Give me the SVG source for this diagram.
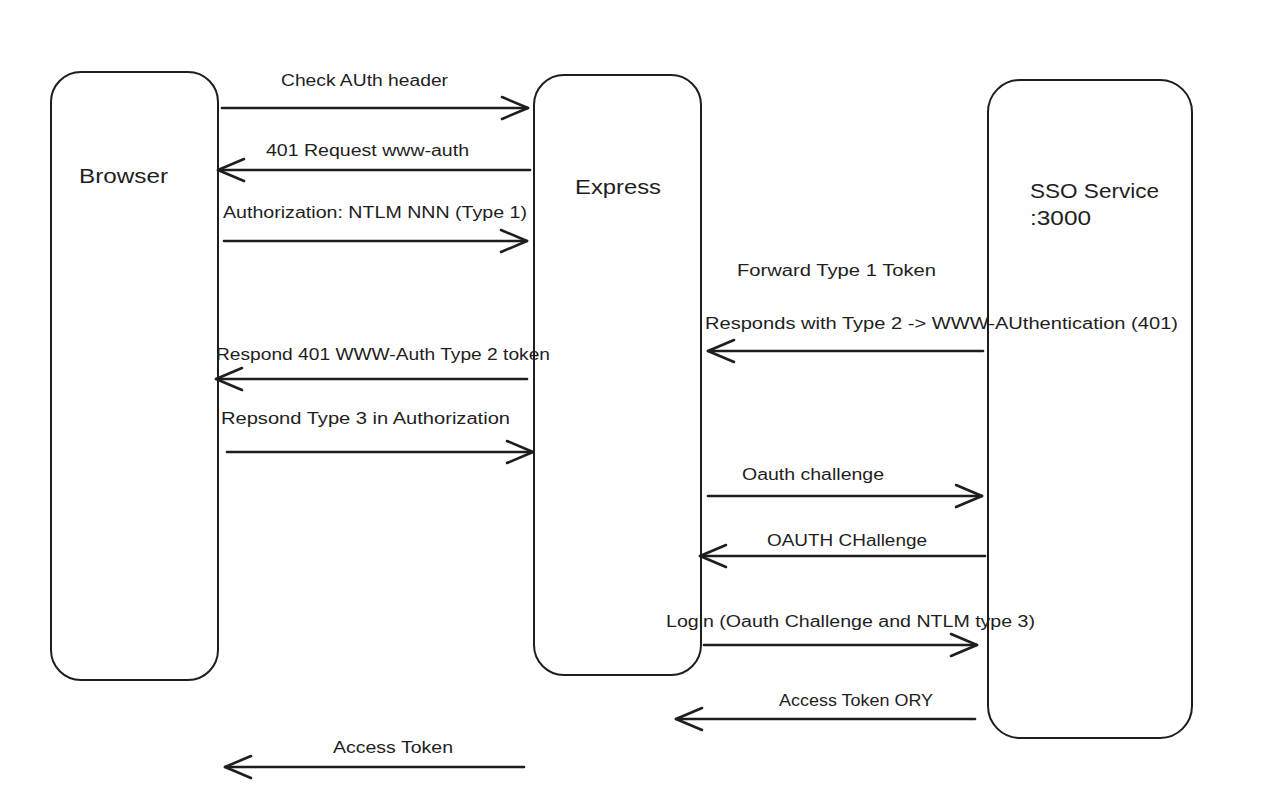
<svg xmlns="http://www.w3.org/2000/svg" width="1272" height="797" viewBox="0 0 1272 797">
<defs>
<style>
.node{fill:#fff;stroke:#1e1e1e;stroke-width:2}
.lbl{font-family:"Liberation Sans","DejaVu Sans",sans-serif;fill:#1e1e1e}
.nl{font-size:20px}
.el{font-size:16px}
.conn line{stroke:#1e1e1e;stroke-width:2.6;stroke-linecap:round;marker-end:url(#ah)}
</style>
<marker id="ah" markerUnits="userSpaceOnUse" markerWidth="40" markerHeight="40" viewBox="-30 -15 40 30" refX="0" refY="0" orient="auto">
<path d="M-26,-11 L0,0 L-26,11" fill="none" stroke="#1e1e1e" stroke-width="2.6" stroke-linecap="round" stroke-linejoin="round"/>
</marker>
</defs>
<rect width="1272" height="797" fill="#fff"/>
<g id="browser"><rect class="node" x="51" y="72" width="167" height="608" rx="30"/><text class="lbl nl" x="79" y="183" textLength="89" lengthAdjust="spacingAndGlyphs">Browser</text></g>
<g id="express"><rect class="node" x="534" y="75" width="167" height="600" rx="30"/><text class="lbl nl" x="575" y="194" textLength="86" lengthAdjust="spacingAndGlyphs">Express</text></g>
<g id="sso"><rect class="node" x="988" y="80" width="204" height="658" rx="32"/><text class="lbl nl" x="1030" y="198" textLength="129" lengthAdjust="spacingAndGlyphs">SSO Service</text><text class="lbl nl" x="1030" y="225" textLength="61" lengthAdjust="spacingAndGlyphs">:3000</text></g>
<g id="connectors" class="conn">
<line x1="222" y1="108" x2="528" y2="108"/>
<line x1="530" y1="170" x2="218" y2="170"/>
<line x1="224" y1="241" x2="527" y2="241"/>
<line x1="983" y1="351" x2="708" y2="351"/>
<line x1="527" y1="379" x2="216" y2="379"/>
<line x1="227" y1="452" x2="533" y2="452"/>
<line x1="708" y1="496" x2="982" y2="496"/>
<line x1="985" y1="556" x2="700" y2="556"/>
<line x1="704" y1="645" x2="977" y2="645"/>
<line x1="975" y1="719" x2="676" y2="719"/>
<line x1="524" y1="767" x2="225" y2="767"/>
</g>
<g id="labels">
<text class="lbl el" x="281" y="86" textLength="167" lengthAdjust="spacingAndGlyphs">Check AUth header</text>
<text class="lbl el" x="266" y="156" textLength="203" lengthAdjust="spacingAndGlyphs">401 Request www-auth</text>
<text class="lbl el" x="223" y="218" textLength="304" lengthAdjust="spacingAndGlyphs">Authorization: NTLM NNN (Type 1)</text>
<text class="lbl el" x="737" y="276" textLength="199" lengthAdjust="spacingAndGlyphs">Forward Type 1 Token</text>
<text class="lbl el" x="705" y="329" textLength="473" lengthAdjust="spacingAndGlyphs">Responds with Type 2 -&gt; WWW-AUthentication (401)</text>
<text class="lbl el" x="216" y="360" textLength="334" lengthAdjust="spacingAndGlyphs">Respond 401 WWW-Auth Type 2 token</text>
<text class="lbl el" x="221" y="424" textLength="289" lengthAdjust="spacingAndGlyphs">Repsond Type 3 in Authorization</text>
<text class="lbl el" x="742" y="480" textLength="142" lengthAdjust="spacingAndGlyphs">Oauth challenge</text>
<text class="lbl el" x="767" y="546" textLength="160" lengthAdjust="spacingAndGlyphs">OAUTH CHallenge</text>
<text class="lbl el" x="666" y="627" textLength="369" lengthAdjust="spacingAndGlyphs">Login (Oauth Challenge and NTLM type 3)</text>
<text class="lbl el" x="779" y="706" textLength="154" lengthAdjust="spacingAndGlyphs">Access Token ORY</text>
<text class="lbl el" x="333" y="753" textLength="120" lengthAdjust="spacingAndGlyphs">Access Token</text>
</g>
</svg>
